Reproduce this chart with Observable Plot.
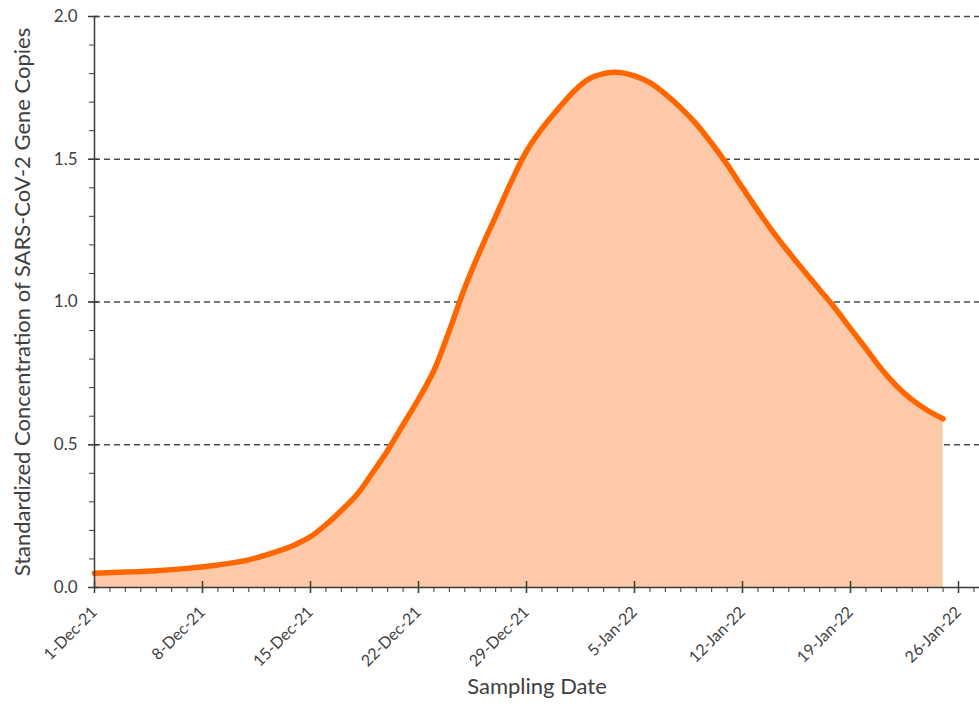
<!DOCTYPE html>
<html>
<head>
<meta charset="utf-8">
<script src="https://cdn.jsdelivr.net/npm/d3@7"></script>
<script src="https://cdn.jsdelivr.net/npm/@observablehq/plot@0.6"></script>
<style>
  html, body { margin: 0; padding: 0; background: #fff; }
  #chart { width: 979px; height: 707px; }
</style>
</head>
<body>
<div id="chart"></div>
<script>
// Day offsets from 1-Dec-2021 and standardized concentration readings
const sampleDays = [0, 2, 4, 6, 8, 10, 12, 13, 14, 15, 16, 17, 18, 19, 20, 21, 22, 23, 24, 25, 26, 27, 28, 29, 30, 31, 32, 33, 34, 35, 36, 37, 38, 39, 40, 41, 42, 43, 44, 45, 46, 47, 48, 49, 50, 51, 52, 53, 54, 55];
const concentration = [0.050, 0.054, 0.059, 0.067, 0.079, 0.097, 0.129, 0.150, 0.178, 0.220, 0.270, 0.325, 0.400, 0.480, 0.570, 0.660, 0.760, 0.900, 1.050, 1.180, 1.300, 1.420, 1.528, 1.607, 1.673, 1.734, 1.780, 1.800, 1.804, 1.792, 1.768, 1.728, 1.680, 1.624, 1.556, 1.482, 1.400, 1.320, 1.244, 1.174, 1.108, 1.043, 0.978, 0.907, 0.837, 0.765, 0.705, 0.657, 0.620, 0.591];

// Tick labels
const xTickDays = [0, 7, 14, 21, 28, 35, 42, 49, 56];
const xTickLabels = ["1-Dec-21", "8-Dec-21", "15-Dec-21", "22-Dec-21", "29-Dec-21", "5-Jan-22", "12-Jan-22", "19-Jan-22", "26-Jan-22"];
const yTicks = [0, 0.5, 1.0, 1.5, 2.0];
const yTickLabels = ["0.0", "0.5", "1.0", "1.5", "2.0"];
const yMinorTicks = d3.range(0, 21).map(i => i / 10);

const yLabel = "Standardized Concentration of SARS-CoV-2 Gene Copies";
const xLabel = "Sampling Date";

const day = d => new Date(Date.UTC(2021, 11, 1) + d * 864e5);
const data = sampleDays.map((d, i) => ({date: day(d), value: concentration[i]}));
const majorDates = xTickDays.map(day);
const minorDates = d3.range(0, 58).map(day);
const xDomain = [day(0), day(57.36)];

const textColor = "#404040";
const axisColor = "#3a3a3a";

const chart = Plot.plot({
  width: 979,
  height: 707,
  marginLeft: 94,
  marginRight: 0,
  marginTop: 16,
  marginBottom: 120,
  style: {fontFamily: "Lato, 'Open Sans', sans-serif", color: textColor, background: "#fff"},
  x: {type: "utc", domain: xDomain},
  y: {domain: [0, 2]},
  marks: [
    Plot.gridY(yTicks.slice(1), {stroke: "#4a4a4a", strokeOpacity: 1, strokeDasharray: "6,4", strokeWidth: 1.5}),
    Plot.areaY(data, {x: "date", y: "value", fill: "#FDC9A8", curve: "catmull-rom"}),
    Plot.lineY(data, {x: "date", y: "value", stroke: "#FF6600", strokeWidth: 5.5, curve: "catmull-rom"}),
    // y axis line and x axis line
    Plot.ruleX([day(0)], {stroke: axisColor, strokeWidth: 1.5}),
    Plot.ruleY([0], {stroke: axisColor, strokeWidth: 1.5}),
    // y minor ticks
    Plot.axisY({ticks: yMinorTicks, tickSize: 5, tickFormat: () => "", label: null, stroke: axisColor}),
    // y major ticks crossing
    Plot.axisY({ticks: yTicks, tickSize: 10, dx: 4, tickFormat: () => "", label: null, stroke: axisColor, strokeWidth: 1.5}),
    // y tick labels
    Plot.axisY({ticks: yTicks, tickSize: 0, tickPadding: 17, tickFormat: (d, i) => yTickLabels[i], label: null, fontSize: 17, fill: textColor}),
    // x minor ticks
    Plot.axisX({ticks: minorDates, tickSize: 5, tickFormat: () => "", label: null, stroke: axisColor}),
    // x major ticks crossing
    Plot.axisX({ticks: majorDates, tickSize: 12, dy: -6, tickFormat: () => "", label: null, stroke: axisColor, strokeWidth: 1.5}),
    // x tick labels
    Plot.axisX({ticks: majorDates, tickSize: 0, tickPadding: 22, tickRotate: -45, tickFormat: (d, i) => xTickLabels[i], label: null, fontSize: 16, fill: textColor}),
    Plot.text([yLabel], {frameAnchor: "left", textAnchor: "middle", rotate: -90, dx: -72, fontSize: 22, fill: textColor}),
    Plot.text([xLabel], {frameAnchor: "bottom", dy: 106, fontSize: 22, fill: textColor})
  ]
});
d3.select(chart).selectAll("text").each(function () {
  const t = this.textContent;
  if (xTickLabels.includes(t)) this.style.fontSize = "16px";
  else if (yTickLabels.includes(t)) this.style.fontSize = "17px";
});
document.getElementById("chart").appendChild(chart);
</script>
</body>
</html>
